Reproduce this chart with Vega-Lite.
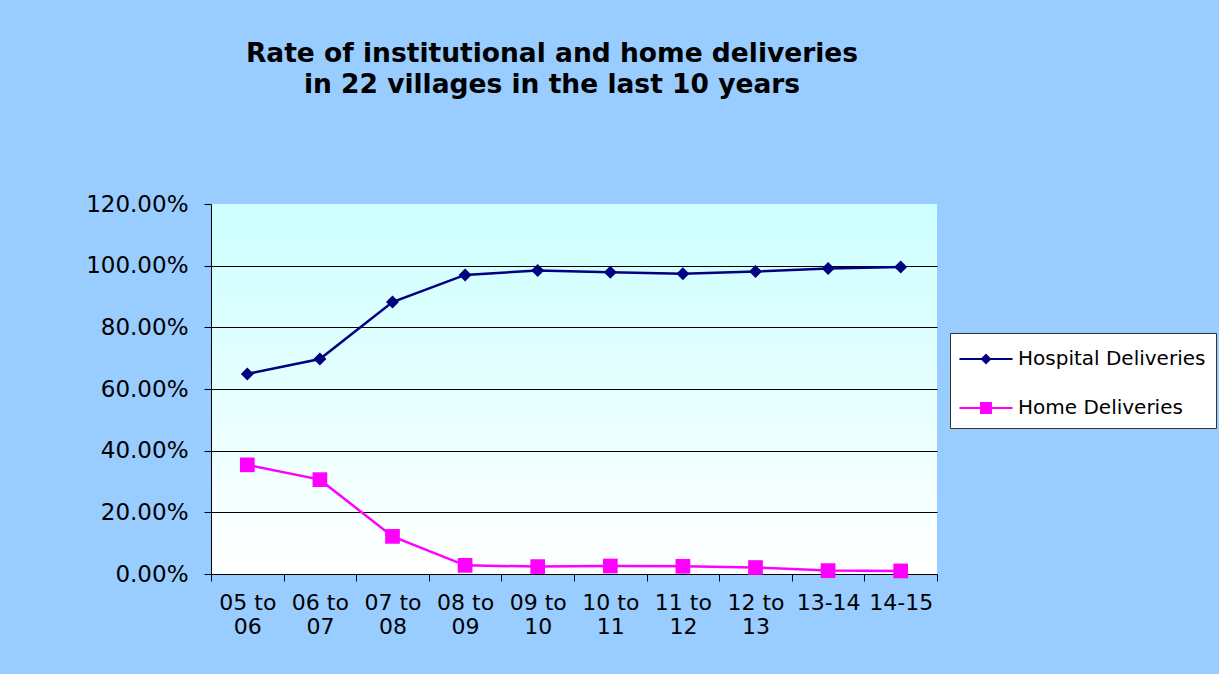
{
  "$schema": "https://vega.github.io/schema/vega-lite/v6.json",
  "width": 726,
  "height": 370,
  "autosize": {"type": "none"},
  "padding": {"left": 211, "top": 204, "right": 282, "bottom": 100},
  "background": "#99CCFF",
  "view": {
    "stroke": null,
    "fill": {"gradient": "linear", "x1": 0, "y1": 0, "x2": 0, "y2": 1,
      "stops": [{"offset": 0, "color": "#CCFFFF"}, {"offset": 1, "color": "#FFFFFF"}]}
  },
  "title": {
    "text": ["Rate of institutional and home deliveries", "in 22 villages in the last 10 years"],
    "font": "DejaVu Sans",
    "fontSize": 26.5,
    "fontWeight": "bold",
    "color": "black",
    "lineHeight": 31,
    "anchor": "middle",
    "frame": "group",
    "dx": -22,
    "offset": 95
  },
  "data": {
    "values": [
      {"period": "05 to 06", "series": "Hospital Deliveries", "value": 0.649},
      {"period": "06 to 07", "series": "Hospital Deliveries", "value": 0.697},
      {"period": "07 to 08", "series": "Hospital Deliveries", "value": 0.882},
      {"period": "08 to 09", "series": "Hospital Deliveries", "value": 0.970},
      {"period": "09 to 10", "series": "Hospital Deliveries", "value": 0.984},
      {"period": "10 to 11", "series": "Hospital Deliveries", "value": 0.979},
      {"period": "11 to 12", "series": "Hospital Deliveries", "value": 0.974},
      {"period": "12 to 13", "series": "Hospital Deliveries", "value": 0.981},
      {"period": "13-14", "series": "Hospital Deliveries", "value": 0.991},
      {"period": "14-15", "series": "Hospital Deliveries", "value": 0.996},
      {"period": "05 to 06", "series": "Home Deliveries", "value": 0.354},
      {"period": "06 to 07", "series": "Home Deliveries", "value": 0.306},
      {"period": "07 to 08", "series": "Home Deliveries", "value": 0.122},
      {"period": "08 to 09", "series": "Home Deliveries", "value": 0.028},
      {"period": "09 to 10", "series": "Home Deliveries", "value": 0.024},
      {"period": "10 to 11", "series": "Home Deliveries", "value": 0.026},
      {"period": "11 to 12", "series": "Home Deliveries", "value": 0.025},
      {"period": "12 to 13", "series": "Home Deliveries", "value": 0.021},
      {"period": "13-14", "series": "Home Deliveries", "value": 0.011},
      {"period": "14-15", "series": "Home Deliveries", "value": 0.010}
    ]
  },
  "encoding": {
    "x": {
      "field": "period", "type": "nominal", "sort": null,
      "scale": {"paddingInner": 0, "paddingOuter": 0},
      "axis": {
        "title": null, "labelAngle": 0, "tickBand": "extent", "grid": false,
        "domainColor": "black", "tickColor": "black", "tickSize": 7, "domainWidth": 1,
        "labelFont": "DejaVu Sans", "labelFontSize": 22, "labelColor": "black",
        "labelLineHeight": 24, "labelPadding": 11, "labelLimit": 0,
        "labelExpr": "length(datum.label) > 5 ? [substring(datum.label, 0, 5), substring(datum.label, 6)] : datum.label"
      }
    },
    "y": {
      "field": "value", "type": "quantitative",
      "scale": {"domain": [0, 1.2], "nice": false, "zero": true},
      "axis": {
        "title": null, "format": ".2%", "values": [0, 0.2, 0.4, 0.6, 0.8, 1.0, 1.2],
        "domainColor": "black", "tickColor": "black", "tickSize": 7,
        "gridColor": "black", "gridWidth": 1,
        "gridOpacity": {"condition": {"test": "datum.value > 1.19", "value": 0}, "value": 1},
        "labelFont": "DejaVu Sans", "labelFontSize": 23, "labelColor": "black", "labelPadding": 16
      }
    },
    "color": {
      "field": "series", "type": "nominal",
      "scale": {"domain": ["Hospital Deliveries", "Home Deliveries"], "range": ["#000080", "#FF00FF"]},
      "legend": {
        "title": null, "orient": "none", "legendX": 739, "legendY": 129,
        "fillColor": "white", "strokeColor": "#333333", "padding": 10,
        "symbolSize": 900, "symbolOffset": 10, "labelOffset": 16, "rowPadding": 23,
        "labelFont": "DejaVu Sans", "labelFontSize": 20, "labelColor": "black", "labelLimit": 0,
        "symbolStrokeWidth": 2
      }
    }
  },
  "layer": [
    {"mark": {"type": "line", "strokeWidth": 2.5}},
    {
      "transform": [{"filter": "datum.value < 0"}],
      "mark": {"type": "point", "filled": true, "opacity": 1},
      "encoding": {
        "shape": {
          "field": "series", "type": "nominal",
          "scale": {
            "domain": ["Hospital Deliveries", "Home Deliveries"],
            "range": ["M-1.77,0H1.77M0,-0.27L0.27,0L0,0.27L-0.27,0Z", "M-1.77,0H1.77M-0.33,-0.33H0.33V0.33H-0.33Z"]
          }
        }
      }
    },
    {
      "transform": [{"filter": "datum.series === 'Hospital Deliveries'"}],
      "mark": {"type": "point", "filled": true, "opacity": 1, "shape": "diamond", "size": 169}
    },
    {
      "transform": [{"filter": "datum.series === 'Home Deliveries'"}],
      "mark": {"type": "point", "filled": true, "opacity": 1, "shape": "square", "size": 216}
    }
  ]
}
